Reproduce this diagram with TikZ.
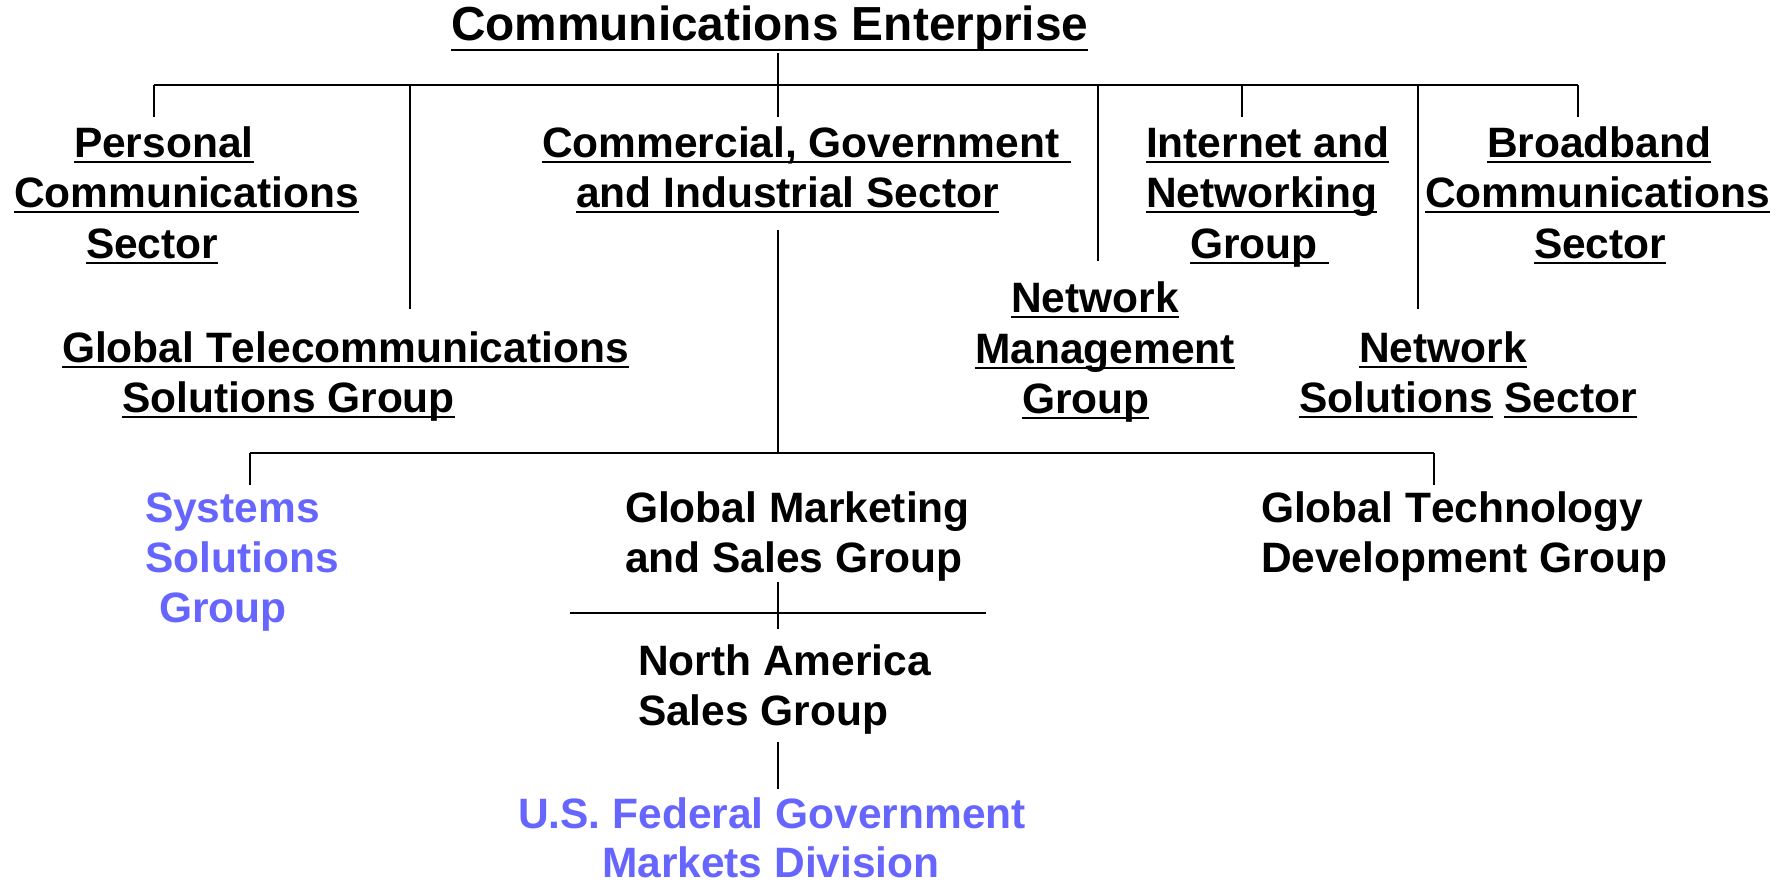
\documentclass[tikz,border=0pt]{standalone}
\usepackage{fontspec}
\setmainfont{Liberation Sans}[Kerning=Off]
\definecolor{ublue}{RGB}{102,102,255}
\newcommand\ulx[1]{\setbox0=\hbox{#1}\rlap{\rule[-5.8pt]{\wd0}{2.3pt}}\box0\relax}
\newcommand\ultitle[1]{\setbox0=\hbox{#1}\rlap{\rule[-10.5pt]{\wd0}{2.6pt}}\box0\relax}
\begin{document}
\begin{tikzpicture}[x=1pt,y=-1pt,
  lbl/.style={anchor=base west,inner sep=0pt,outer sep=0pt,font=\fontsize{42.5pt}{50pt}\selectfont\bfseries},
  blu/.style={lbl,text=ublue},
  hline/.style={line width=2.5pt},
  vline/.style={line width=1.8pt}]
\fill[white] (0,0) rectangle (1792,883);
\useasboundingbox (0,0) rectangle (1792,883);
% title
\node[lbl,font=\fontsize{47.8pt}{55pt}\selectfont\bfseries] (title) at (451,41) {\ultitle{Communications Enterprise}};
% first level
\node[lbl] (ps1) at (74,157) {\ulx{Personal}};
\node[lbl] (ps2) at (14,207) {\ulx{Communications}};
\node[lbl] (ps3) at (86,258) {\ulx{Sector}};
\node[lbl] (cg1) at (542,157) {\ulx{Commercial, Government\ }};
\node[lbl] (cg2) at (576,207) {\ulx{and Industrial Sector}};
\node[lbl] (gt1) at (62,362) {\ulx{Global Telecommunications}};
\node[lbl] (gt2) at (122,412) {\ulx{Solutions Group}};
\node[lbl] (nm1) at (1011,312) {\ulx{Network}};
\node[lbl] (nm2) at (975,363) {\ulx{Management}};
\node[lbl] (nm3) at (1022,413) {\ulx{Group}};
\node[lbl] (in1) at (1146,157) {\ulx{Internet and}};
\node[lbl] (in2) at (1146,207) {\ulx{Networking}};
\node[lbl] (in3) at (1190,258) {\ulx{Group\ }};
\node[lbl] (bb1) at (1487,157) {\ulx{Broadband}};
\node[lbl] (bb2) at (1425,207) {\ulx{Communications}};
\node[lbl] (bb3) at (1534,258) {\ulx{Sector}};
\node[lbl] (ns1) at (1359,362) {\ulx{Network}};
\node[lbl] (ns2) at (1299,412) {\ulx{Solutions}\ \ulx{Sector}};
% second level
\node[blu] (ss1) at (145,522) {Systems};
\node[blu] (ss2) at (145,572) {Solutions};
\node[blu] (ss3) at (159,622) {Group};
\node[lbl] (gm1) at (625,522) {Global Marketing};
\node[lbl] (gm2) at (625,572) {and Sales Group};
\node[lbl] (td1) at (1261,522) {Global Technology};
\node[lbl] (td2) at (1261,572) {Development Group};
\node[lbl] (na1) at (638,675) {North America};
\node[lbl] (na2) at (638,725) {Sales Group};
\node[blu] (us1) at (518,828) {U.S. Federal Government};
\node[blu] (us2) at (602,877) {Markets Division};
% connector points
\coordinate (tb) at (778,53);
\coordinate (cgt) at (778,117);
\coordinate (hl) at (154,85);
\coordinate (hr) at (1578,85);
\coordinate (pst) at (154,117);
\coordinate (gtj) at (410,85);
\coordinate (gtt) at (410,309);
\coordinate (nmj) at (1098,85);
\coordinate (nmt) at (1098,261);
\coordinate (inj) at (1242,85);
\coordinate (int) at (1242,117);
\coordinate (nsj) at (1418,85);
\coordinate (nst) at (1418,309);
\coordinate (bbt) at (1578,117);
\coordinate (cgb) at (778,230);
\coordinate (lj) at (778,453);
\coordinate (ll) at (250,453);
\coordinate (lr) at (1434,453);
\coordinate (sst) at (250,485);
\coordinate (tdt) at (1434,485);
\coordinate (gmb) at (778,582);
\coordinate (nat) at (778,629);
\coordinate (gml) at (570,613);
\coordinate (gmr) at (986,613);
\coordinate (nab) at (778,742);
\coordinate (ust) at (778,789);
% connectors
\draw[vline] (tb) -- (cgt);
\draw[hline] (hl) -- (hr);
\draw[vline] (hl) -- (pst);
\draw[vline] (gtj) -- (gtt);
\draw[vline] (nmj) -- (nmt);
\draw[vline] (inj) -- (int);
\draw[vline] (nsj) -- (nst);
\draw[vline] (hr) -- (bbt);
\draw[vline] (cgb) -- (lj);
\draw[hline] (ll) -- (lr);
\draw[vline] (ll) -- (sst);
\draw[vline] (lr) -- (tdt);
\draw[vline] (gmb) -- (nat);
\draw[hline] (gml) -- (gmr);
\draw[vline] (nab) -- (ust);
\end{tikzpicture}
\end{document}
